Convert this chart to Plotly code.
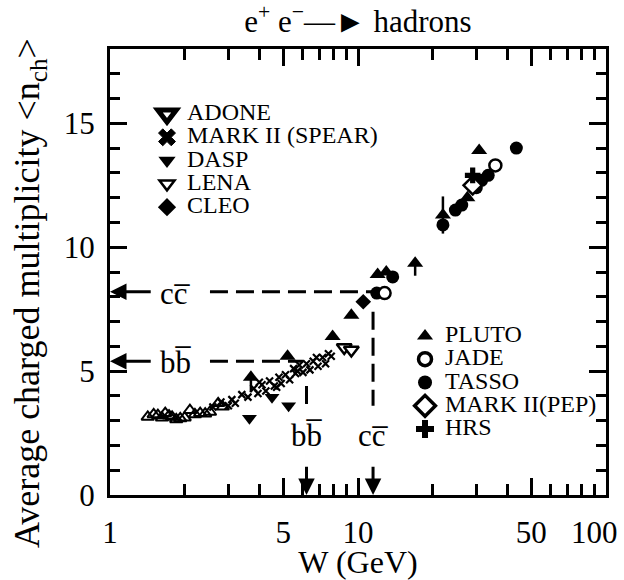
import math
import plotly.graph_objects as go

FONT = "Liberation Serif, Times New Roman, serif"
BLACK = "black"

# ---- measurements: centre-of-mass energy W (GeV) and mean charged multiplicity ----
adone_w = [1.42, 1.50, 1.56, 1.62, 1.67, 1.73, 1.78, 1.85, 1.92, 2.00, 2.10, 2.20, 2.31, 2.42, 2.53, 2.73, 2.85]
adone_n = [3.15, 3.25, 3.22, 3.12, 3.30, 3.20, 3.15, 3.05, 3.09, 3.12, 3.42, 3.25, 3.30, 3.28, 3.35, 3.70, 3.56]

mk2s_w = [2.6, 2.8, 3.0, 3.1, 3.2, 3.4, 3.6, 3.8, 3.95, 4.1, 4.25, 4.4, 4.6, 4.8, 4.9, 5.1,
          5.3, 5.5, 5.6, 5.8, 6.0, 6.2, 6.4, 6.6, 6.9, 7.2, 7.4, 7.6, 7.8, 4.0, 4.7, 5.7, 6.8]
mk2s_n = [3.55, 3.75, 3.6, 3.85, 3.7, 4.05, 3.95, 4.3, 4.1, 4.45, 4.2, 4.6, 4.4, 4.75, 4.5, 4.85,
          4.65, 5.1, 4.9, 5.25, 4.95, 5.3, 5.05, 5.4, 5.2, 5.55, 5.3, 5.7, 5.6, 4.55, 4.35, 5.0, 5.55]

dasp_w = [3.65, 4.5, 5.25]
dasp_n = [3.1, 3.95, 3.6]

lena_w = [8.8, 9.4]
lena_n = [5.95, 5.85]

cleo_w = [10.5]
cleo_n = [7.8]

pluto_w = [3.7, 5.2, 7.9, 9.4, 12.0, 13.0, 17.0, 22.0, 27.6, 30.8]
pluto_n = [4.75, 5.6, 6.4, 7.25, 8.9, 9.0, 9.35, 11.3, 12.0, 13.9]
pluto_err_up = [0.0, 0.0, 0.0, 0.0, 0.0, 0.0, 0.0, 0.75, 0.0, 0.0]
pluto_err_dn = [0.6, 0.0, 0.0, 0.0, 0.0, 0.0, 0.5, 0.75, 0.0, 0.0]

tasso_w = [11.9, 13.8, 22.0, 24.7, 26.2, 30.0, 31.5, 33.5, 43.5]
tasso_n = [8.15, 8.8, 10.9, 11.5, 11.7, 12.4, 12.7, 12.9, 14.0]

jade_w = [12.8, 35.8]
jade_n = [8.15, 13.3]

mk2p_w = [29.0]
mk2p_n = [12.5]

hrs_w = [29.0]
hrs_n = [12.9]

# heavy-quark pair thresholds: (W of the threshold, multiplicity read at it)
bb_w, bb_n = 6.2, 5.4
cc_w, cc_n = 11.5, 8.2

x_ticks = [1, 5, 10, 50, 100]
x_minor = [2, 3, 4, 6, 7, 8, 9, 20, 30, 40, 60, 70, 80, 90]
y_ticks = [0, 5, 10, 15]

fig = go.Figure()

# dashed guide lines from the threshold values
dash = dict(color=BLACK, width=3, dash="18px,8px")
for xs, ys in [([2.53, cc_w], [cc_n, cc_n]), ([cc_w, cc_w], [7.4, 3.6]),
               ([2.53, 6.0], [bb_n, bb_n]), ([bb_w, bb_w], [4.4, 3.6])]:
    fig.add_trace(go.Scatter(x=xs, y=ys, mode="lines", line=dash,
                             showlegend=False, hoverinfo="skip"))

def data_trace(w, n, symbol, size, fill=BLACK, lw=0, err=None):
    tr = go.Scatter(x=w, y=n, mode="markers", showlegend=False,
                    marker=dict(symbol=symbol, size=size, color=fill,
                                line=dict(color=BLACK, width=lw)))
    if err is not None:
        tr.error_y = dict(type="data", symmetric=False, array=err[0], arrayminus=err[1],
                          color=BLACK, thickness=2.5, width=0)
    return tr

fig.add_trace(data_trace(adone_w, adone_n, "triangle-up-open", 11, fill=BLACK, lw=2))
fig.add_trace(data_trace(mk2s_w, mk2s_n, "x-thin-open", 7, fill=BLACK, lw=2.2))
fig.add_trace(data_trace(dasp_w, dasp_n, "triangle-down", 13))
fig.add_trace(data_trace(lena_w, lena_n, "triangle-down", 13, fill="white", lw=2.5))
fig.add_trace(data_trace(cleo_w, cleo_n, "diamond", 12))
fig.add_trace(data_trace(pluto_w, pluto_n, "triangle-up", 14, err=(pluto_err_up, pluto_err_dn)))
fig.add_trace(data_trace(tasso_w, tasso_n, "circle", 13))
fig.add_trace(data_trace(mk2p_w, mk2p_n, "diamond", 14, fill="white", lw=2.5))
fig.add_trace(data_trace(hrs_w, hrs_n, "cross", 13))
fig.add_trace(data_trace(jade_w, jade_n, "circle", 12, fill="white", lw=2.5))

# legend entries (two separate key boxes)
def key(name, legend, symbol, size, fill=BLACK, lw=0, lc=BLACK):
    fig.add_trace(go.Scatter(
        x=[None], y=[None], mode="markers", legend=legend,
        name=f"<span style='font-size:24px'>{name}</span>",
        marker=dict(symbol=symbol, size=size, color=fill, line=dict(color=lc, width=lw))))

key("ADONE", "legend", "triangle-down-open", 16, lw=5)
key("MARK II (SPEAR)", "legend", "x", 15, lw=1)
key("DASP", "legend", "triangle-down", 15)
key("LENA", "legend", "triangle-down-open", 13, lw=2.5)
key("CLEO", "legend", "diamond", 14)
key("PLUTO", "legend2", "triangle-up", 14)
key("JADE", "legend2", "circle-open", 13, lw=3.5)
key("TASSO", "legend2", "circle", 14)
key("MARK II(PEP)", "legend2", "diamond-open", 16, lw=3.5)
key("HRS", "legend2", "cross", 15)

# threshold labels (quark + barred antiquark) and arrows
over = lambda a: a + a + "\u0305"
lab_font = dict(family=FONT, size=31, color=BLACK)
tick_font = dict(family=FONT, size=31, color=BLACK)
ann = []
for q, w, n in [("c", cc_w, cc_n), ("b", bb_w, bb_n)]:
    ann.append(dict(x=math.log10(1.0), y=n, ax=math.log10(1.48), ay=n, axref="x", ayref="y",
                    xref="x", yref="y", text="", showarrow=True, arrowhead=2,
                    arrowsize=1.1, arrowwidth=3, arrowcolor=BLACK, standoff=0, startstandoff=0))
    ann.append(dict(x=math.log10(1.83), y=n - 0.05, xref="x", yref="y", text=over(q),
                    showarrow=False, font=lab_font))
    ann.append(dict(x=math.log10(w), y=0, ax=math.log10(w), ay=1.2, axref="x", ayref="y",
                    xref="x", yref="y", text="", showarrow=True, arrowhead=2,
                    arrowsize=1.1, arrowwidth=3, arrowcolor=BLACK, standoff=0, startstandoff=0))
    ann.append(dict(x=math.log10(w), y=2.4, xref="x", yref="y", text=over(q),
                    showarrow=False, font=lab_font))

# the last decade label sits flush against the right-hand frame
ann.append(dict(x=math.log10(x_ticks[-1]), y=-0.085, xref="x", yref="paper",
                xanchor="right", yanchor="middle", xshift=14, showarrow=False,
                text=str(x_ticks[-1]), font=tick_font))

# vertical axis title, set slightly below the plot's middle
ann.append(dict(x=-0.161, y=0.453, xref="paper", yref="paper", textangle=-90,
                xanchor="center", yanchor="middle",
                text="Average charged multiplicity &lt;n<sub>ch</sub>&gt;", showarrow=False,
                font=dict(family=FONT, size=36, color=BLACK)))

axis_common = dict(showline=True, linecolor=BLACK, linewidth=3, mirror="ticks",
                   ticks="inside", tickcolor=BLACK, tickwidth=2.5, ticklen=17,
                   showgrid=False, zeroline=False, automargin=False,
                   tickfont=tick_font)

fig.update_layout(
    width=624, height=580,
    margin=dict(l=110, r=18, t=49, b=85),
    paper_bgcolor="white", plot_bgcolor="white",
    font=dict(family=FONT, color=BLACK),
    title=dict(text="e<sup>+</sup> e<sup>−</sup>—► hadrons", x=0.5, xref="paper",
               y=1 - 21 / 580, yref="container", yanchor="middle",
               font=dict(family=FONT, size=31, color=BLACK)),
    xaxis=dict(type="log", range=[0, 2], tickvals=x_ticks,
               ticktext=[str(v) for v in x_ticks[:-1]] + [""],
               minor=dict(tickvals=x_minor, ticks="inside", ticklen=11, tickwidth=2.5,
                          tickcolor=BLACK, showgrid=False),
               title=dict(text="W (GeV)", font=dict(family=FONT, size=32, color=BLACK), standoff=14),
               ticklabelstandoff=8,
               **axis_common),
    yaxis=dict(range=[0, 18], tickvals=y_ticks,
               minor=dict(dtick=1, ticks="inside", ticklen=10, tickwidth=2.5,
                          tickcolor=BLACK, showgrid=False),
               ticklabelstandoff=6,
               **axis_common),
    legend=dict(x=0.0746, y=0.8915, xanchor="left", yanchor="top", bgcolor="rgba(0,0,0,0)",
                font=dict(family=FONT, size=15.6, color=BLACK), borderwidth=0),
    legend2=dict(x=0.5948, y=0.394, xanchor="left", yanchor="top", bgcolor="rgba(0,0,0,0)",
                 font=dict(family=FONT, size=15.6, color=BLACK), borderwidth=0),
    annotations=ann,
)

fig.write_html("out.html")
